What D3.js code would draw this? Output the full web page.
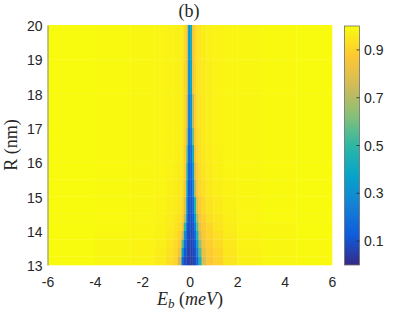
<!DOCTYPE html>
<html lang="en">
<head>
<meta charset="utf-8">
<title>Eb vs R map</title>
<script src="https://cdn.jsdelivr.net/npm/d3@7/dist/d3.min.js"></script>
<style>
  body { margin: 0; background: #fff; }
</style>
</head>
<body>
<script>
// cell edges along E_b (meV), dense near the resonance
var ebEdges = [-6, -4, -2.5, -1.5, -1, -0.7, -0.5, -0.35, -0.25, -0.15, -0.08, -0.03,
               0.03, 0.1, 0.18, 0.27, 0.37, 0.5, 0.7, 1.0, 1.4, 2, 3, 4.5, 6];
// cell edges along R (nm)
var rEdges = [13, 13.25, 13.5, 13.75, 14, 14.25, 14.5, 15, 15.5, 16, 16.5, 17, 18, 19, 20];
// values, one row per R band, from R = 13 upward
var row13_00 = [1.0,0.99,0.98,0.96,0.93,0.90,0.75,0.18,0.08,0.06,0.05,0.04,0.04,0.06,0.08,0.16,0.45,0.78,0.87,0.90,0.945,0.975,0.99,0.995];
var row13_25 = [1.0,0.99,0.98,0.965,0.94,0.91,0.84,0.35,0.11,0.08,0.06,0.05,0.05,0.07,0.10,0.24,0.55,0.82,0.88,0.91,0.95,0.975,0.99,0.995];
var row13_50 = [1.0,0.99,0.98,0.97,0.95,0.92,0.88,0.55,0.18,0.09,0.07,0.06,0.06,0.08,0.13,0.35,0.66,0.85,0.89,0.925,0.955,0.98,0.99,0.995];
var row13_75 = [1.0,0.99,0.985,0.975,0.955,0.935,0.90,0.75,0.30,0.11,0.08,0.07,0.07,0.09,0.18,0.45,0.76,0.87,0.905,0.935,0.96,0.98,0.99,1.0];
var row14_00 = [1.0,0.995,0.985,0.975,0.96,0.945,0.92,0.86,0.50,0.15,0.09,0.08,0.08,0.10,0.25,0.56,0.82,0.88,0.915,0.945,0.965,0.985,0.99,1.0];
var row14_25 = [1.0,0.995,0.985,0.98,0.965,0.95,0.935,0.90,0.70,0.24,0.10,0.09,0.09,0.12,0.36,0.68,0.86,0.90,0.93,0.95,0.97,0.985,0.995,1.0];
var row14_50 = [1.0,0.995,0.99,0.98,0.97,0.96,0.945,0.915,0.80,0.32,0.11,0.10,0.10,0.18,0.48,0.80,0.885,0.92,0.945,0.96,0.975,0.985,0.995,1.0];
var row15_00 = [1.0,0.995,0.99,0.985,0.975,0.965,0.955,0.93,0.86,0.42,0.13,0.11,0.12,0.26,0.68,0.86,0.91,0.935,0.955,0.97,0.98,0.99,0.995,1.0];
var row15_50 = [1.0,0.995,0.99,0.985,0.98,0.97,0.96,0.94,0.88,0.50,0.16,0.13,0.15,0.32,0.78,0.88,0.925,0.945,0.96,0.975,0.985,0.99,0.995,1.0];
var row16_00 = [1.0,0.995,0.99,0.985,0.98,0.975,0.965,0.945,0.89,0.58,0.20,0.15,0.19,0.42,0.84,0.905,0.935,0.955,0.965,0.975,0.985,0.99,0.995,1.0];
var row16_50 = [1.0,0.995,0.99,0.985,0.98,0.975,0.97,0.95,0.90,0.70,0.25,0.18,0.24,0.58,0.87,0.915,0.94,0.96,0.97,0.98,0.985,0.99,0.995,1.0];
var row17_00 = [1.0,0.995,0.99,0.985,0.98,0.975,0.97,0.955,0.91,0.78,0.30,0.22,0.30,0.72,0.89,0.925,0.945,0.96,0.97,0.98,0.985,0.99,0.995,1.0];
var row18_00 = [1.0,0.995,0.99,0.985,0.98,0.975,0.97,0.955,0.915,0.84,0.36,0.27,0.38,0.85,0.905,0.93,0.95,0.96,0.97,0.98,0.985,0.99,0.995,1.0];
var row19_00 = [1.0,0.995,0.99,0.985,0.98,0.975,0.97,0.96,0.92,0.85,0.40,0.30,0.42,0.86,0.91,0.935,0.95,0.965,0.975,0.98,0.985,0.99,0.995,1.0];
var rows = [row13_00, row13_25, row13_50, row13_75, row14_00, row14_25, row14_50,
            row15_00, row15_50, row16_00, row16_50, row17_00, row18_00, row19_00];

var xTicks = [-6, -4, -2, 0, 2, 4, 6];
var yTicks = [13, 14, 15, 16, 17, 18, 19, 20];
var cbTicks = [0.1, 0.3, 0.5, 0.7, 0.9];
// parula colormap samples at 0, 1/8, ..., 1
var parula = ["#352a87", "#0f5cdd", "#1481d6", "#06a4ca", "#2eb7a4",
              "#87bf77", "#d1bb59", "#fec832", "#f9fb0e"];

var w = 415;
var h = 312;

var svg = d3.select("body")
    .append("svg")
    .attr("width", w)
    .attr("height", h);

var x = d3.scaleLinear().domain([-6, 6]).range([47.5, 332]);
var y = d3.scaleLinear().domain([13, 20]).range([265, 25]);
var color = d3.scaleLinear()
    .domain(parula.map(function(d, i) { return i / (parula.length - 1); }))
    .range(parula)
    .interpolate(d3.interpolateRgb)
    .clamp(true);

// flatten grid into cells
var cells = [];
rows.forEach(function(row, i) {
    row.forEach(function(v, j) {
        cells.push({x0: ebEdges[j], x1: ebEdges[j + 1], r0: rEdges[i], r1: rEdges[i + 1], v: v});
    });
});

svg.append("g")
    .selectAll("rect")
    .data(cells)
    .enter()
    .append("rect")
    .attr("x", function(d) { return x(d.x0); })
    .attr("y", function(d) { return y(d.r1); })
    .attr("width", function(d) { return x(d.x1) - x(d.x0) + 0.3; })
    .attr("height", function(d) { return y(d.r0) - y(d.r1) + 0.3; })
    .attr("fill", function(d) { return color(d.v); });

// axes
var tickFont = "'Liberation Sans', Arial, sans-serif";

var xAxis = svg.append("g")
    .attr("transform", "translate(0,265)")
    .call(d3.axisBottom(x).tickValues(xTicks).tickSize(0).tickPadding(12)
        .tickFormat(function(d) { return String(d); }));
xAxis.select(".domain").remove();

var yAxis = svg.append("g")
    .attr("transform", "translate(47.5,0)")
    .call(d3.axisLeft(y).tickValues(yTicks).tickSize(0).tickPadding(5)
        .tickFormat(function(d) { return String(d); }));
yAxis.select(".domain").attr("stroke", "#8c8c9c");

svg.selectAll(".tick text")
    .attr("font-family", tickFont)
    .attr("font-size", 14)
    .attr("fill", "#262626");
yAxis.selectAll(".tick text").attr("dy", "0.4em");

// colorbar
var cb = d3.scaleLinear().domain([0, 1]).range([265, 26]);
var grad = svg.append("defs").append("linearGradient")
    .attr("id", "cbgrad")
    .attr("x1", 0).attr("y1", 1).attr("x2", 0).attr("y2", 0);
grad.selectAll("stop")
    .data(parula)
    .enter()
    .append("stop")
    .attr("offset", function(d, i) { return i / (parula.length - 1); })
    .attr("stop-color", function(d) { return d; });

svg.append("rect")
    .attr("x", 344.5)
    .attr("y", cb(1))
    .attr("width", 15)
    .attr("height", cb(0) - cb(1))
    .attr("fill", "url(#cbgrad)")
    .attr("stroke", "#6e6e6e")
    .attr("stroke-width", 0.8);

svg.selectAll(".cbtick")
    .data(cbTicks)
    .enter()
    .append("line")
    .attr("x1", 356.5)
    .attr("x2", 359.5)
    .attr("y1", function(d) { return cb(d); })
    .attr("y2", function(d) { return cb(d); })
    .attr("stroke", "#262626")
    .attr("stroke-width", 0.8);

svg.selectAll(".cblabel")
    .data(cbTicks)
    .enter()
    .append("text")
    .text(function(d) { return d3.format(".1f")(d); })
    .attr("x", 364)
    .attr("y", function(d) { return cb(d); })
    .attr("dy", "0.36em")
    .attr("font-family", tickFont)
    .attr("font-size", 14)
    .attr("fill", "#262626");

// labels
var serif = "'Liberation Serif', 'Times New Roman', serif";

svg.append("text")
    .attr("transform", "translate(17,145) rotate(-90)")
    .attr("text-anchor", "middle")
    .attr("font-family", serif)
    .attr("font-size", 18)
    .attr("fill", "#262626")
    .text("R (nm)");

var xl = svg.append("text")
    .attr("x", 190)
    .attr("y", 305)
    .attr("text-anchor", "middle")
    .attr("font-family", serif)
    .attr("font-size", 18)
    .attr("fill", "#262626");
xl.append("tspan").attr("font-style", "italic").text("E");
xl.append("tspan").attr("font-style", "italic").attr("font-size", 13).attr("dy", 3).text("b");
xl.append("tspan").attr("dy", -3).text(" (");
xl.append("tspan").attr("font-style", "italic").text("meV");
xl.append("tspan").text(")");

svg.append("text")
    .attr("x", 189)
    .attr("y", 17)
    .attr("text-anchor", "middle")
    .attr("font-family", serif)
    .attr("font-size", 18)
    .attr("fill", "#262626")
    .text("(b)");
</script>
</body>
</html>
